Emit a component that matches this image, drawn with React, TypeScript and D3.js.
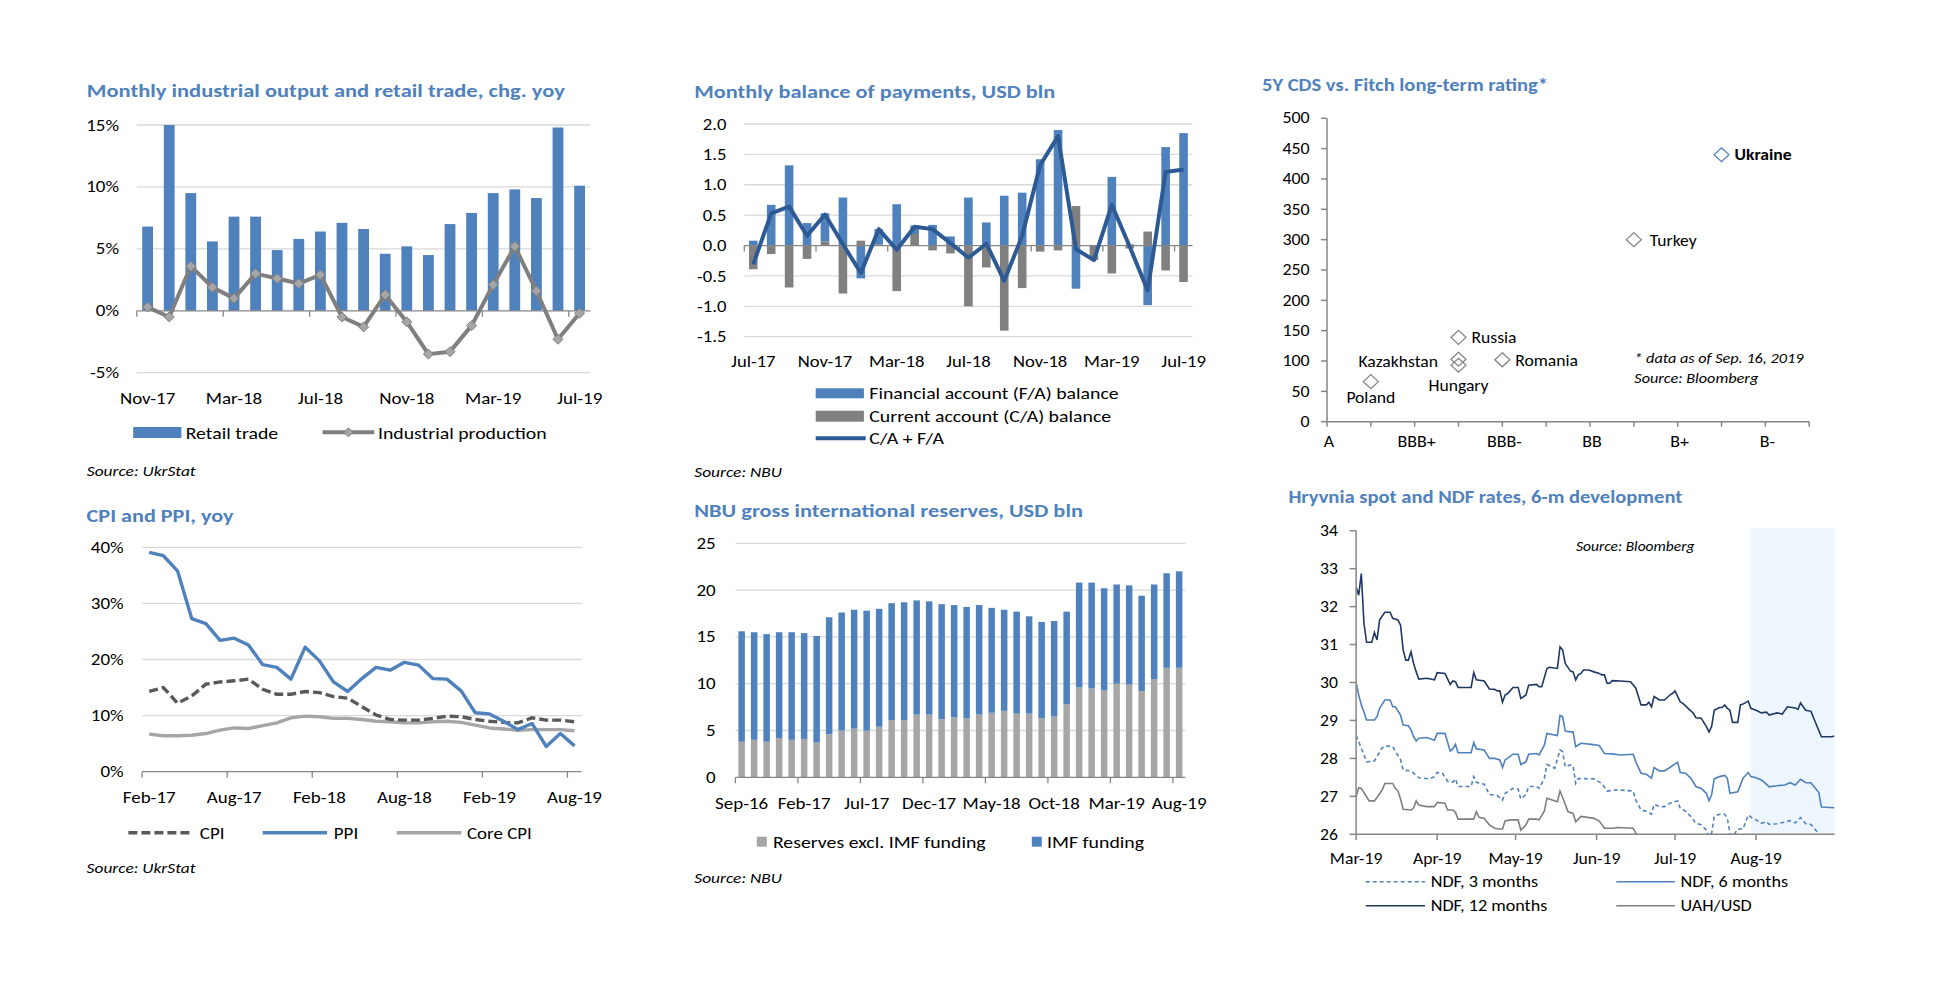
import React from "react";
import * as d3 from "d3";

const FONT = "Calibri, Carlito, Lato, 'Open Sans', Arial, sans-serif";
const TITLE_COLOR = "#4f81bd";
const BLUE = "#4f81bd";
const GRID = "#d9d9d9";
const AXIS = "#868686";
const TICK_FS = 16.5;
const LEG_FS = 16.5;
const SRC_FS = 14.5;

function monthLabels(year: number, month: number, n: number): string[] {
  const fmt = d3.timeFormat("%b-%y");
  return d3.range(n).map((i) => fmt(new Date(year, month + i, 1)));
}

// ---------- Panel 1: industrial output & retail trade ----------
const p1Months = monthLabels(2017, 10, 21); // Nov-17 .. Jul-19
const retailTrade = [6.8, 15.0, 9.5, 5.6, 7.6, 7.6, 4.9, 5.8, 6.4, 7.1, 6.6, 4.6, 5.2, 4.5, 7.0, 7.9, 9.5, 9.8, 9.1, 14.8, 10.1];
const industrialProduction = [0.3, -0.5, 3.6, 1.9, 1.0, 3.0, 2.6, 2.2, 2.9, -0.5, -1.3, 1.3, -0.9, -3.5, -3.3, -1.2, 2.1, 5.2, 1.6, -2.3, -0.2];
const p1YTicks = [-5, 0, 5, 10, 15];

// ---------- Panel 2: balance of payments ----------
const p2Months = monthLabels(2017, 6, 25); // Jul-17 .. Jul-19
const financialAccount = [0.08, 0.67, 1.32, 0.37, 0.46, 0.79, -0.54, 0.25, 0.68, 0.14, 0.34, 0.15, 0.79, 0.38, 0.82, 0.87, 1.42, 1.9, -0.71, 0.01, 1.13, 0.02, -0.98, 1.62, 1.85];
const currentAccount = [-0.39, -0.14, -0.69, -0.22, 0.07, -0.79, 0.08, 0.02, -0.75, 0.19, -0.08, -0.13, -1.0, -0.36, -1.4, -0.7, -0.1, -0.08, 0.65, -0.24, -0.46, -0.05, 0.23, -0.41, -0.6];
const caPlusFa = [-0.31, 0.53, 0.64, 0.16, 0.51, 0.02, -0.45, 0.27, -0.07, 0.31, 0.27, 0.04, -0.2, 0.03, -0.58, 0.16, 1.32, 1.8, -0.06, -0.24, 0.67, -0.02, -0.74, 1.21, 1.25];
const p2YTicks = [-1.5, -1.0, -0.5, 0, 0.5, 1.0, 1.5, 2.0];

// ---------- Panel 3: CDS vs rating ----------
const ratingLabels = ["A", "A-", "BBB+", "BBB", "BBB-", "BB+", "BB", "BB-", "B+", "B", "B-", ""];
const cdsCountries = ["Poland", "Kazakhstan", "Hungary", "Russia", "Romania", "Turkey", "Ukraine"];
const cdsRating = [1, 3, 3, 3, 4, 7, 9];
const cdsValue = [66, 103, 93, 139, 102, 300, 440];
const p3YTicks = [0, 50, 100, 150, 200, 250, 300, 350, 400, 450, 500];

// ---------- Panel 4: CPI & PPI ----------
const p4Months = monthLabels(2017, 1, 31); // Feb-17 .. Aug-19
const ppi = [39.1, 38.5, 35.8, 27.3, 26.4, 23.4, 23.8, 22.6, 19.1, 18.6, 16.5, 22.2, 19.8, 16.0, 14.3, 16.6, 18.6, 18.1, 19.5, 19.0, 16.6, 16.5, 14.4, 10.5, 10.3, 9.0, 7.5, 8.6, 4.5, 6.8, 4.6];
const cpi = [14.3, 15.0, 12.2, 13.5, 15.6, 16.0, 16.2, 16.5, 14.7, 13.8, 13.8, 14.3, 14.1, 13.4, 13.1, 11.6, 10.1, 9.3, 9.2, 9.2, 9.5, 9.9, 9.8, 9.3, 9.0, 8.8, 8.7, 9.6, 9.2, 9.2, 8.9];
const coreCpi = [6.7, 6.4, 6.4, 6.5, 6.8, 7.4, 7.8, 7.7, 8.2, 8.7, 9.6, 9.9, 9.8, 9.5, 9.5, 9.3, 9.0, 8.9, 8.7, 8.7, 8.9, 9.0, 8.8, 8.3, 7.8, 7.6, 7.4, 7.5, 7.5, 7.5, 7.3];
const p4YTicks = [0, 10, 20, 30, 40];

// ---------- Panel 5: NBU reserves ----------
const p5Months = monthLabels(2016, 8, 36); // Sep-16 .. Aug-19
const reservesExImf = [3.8, 4.0, 3.8, 4.2, 4.0, 4.1, 3.7, 4.6, 5.0, 5.2, 5.0, 5.4, 6.1, 6.1, 6.7, 6.7, 6.2, 6.4, 6.3, 6.7, 6.9, 7.1, 6.8, 6.8, 6.3, 6.5, 7.8, 9.6, 9.5, 9.3, 10.0, 9.9, 9.2, 10.5, 11.7, 11.7];
const imfFunding = [11.8, 11.5, 11.5, 11.3, 11.5, 11.3, 11.4, 12.5, 12.6, 12.7, 12.8, 12.6, 12.5, 12.6, 12.2, 12.1, 12.3, 12.0, 11.9, 11.7, 11.2, 10.8, 10.9, 10.4, 10.3, 10.2, 9.9, 11.2, 11.3, 10.9, 10.6, 10.6, 10.2, 10.1, 10.1, 10.3];
const p5YTicks = [0, 5, 10, 15, 20, 25];

// ---------- Panel 6: Hryvnia spot & NDF (day offset from 1 Mar 2019, value) ----------
const ndfStart = new Date(2019, 2, 1);
const ndfEnd = new Date(2019, 7, 31);
const shadeStart = new Date(2019, 6, 30);
const ndf12: [number, number][] = [[0,32.52],[1,32.3],[2,32.87],[3,31.56],[4,31.06],[6,31.06],[7,31.32],[8,31.12],[9,31.65],[11,31.85],[13,31.85],[14,31.69],[16,31.65],[17,31.51],[18,30.86],[19,30.59],[20,30.59],[21,30.81],[22,30.5],[23,30.28],[24,30.09],[27,30.11],[30,30.07],[31,30.26],[34,30.24],[36,29.95],[37,30.04],[38,30.02],[39,29.87],[44,29.87],[45,30.26],[46,30.07],[49,30.04],[51,29.83],[53,29.82],[54,29.78],[55,29.78],[56,29.48],[57,29.67],[58,29.71],[60,29.87],[62,29.87],[63,29.58],[65,29.67],[66,29.93],[69,29.95],[70,29.89],[71,29.89],[73,30.37],[74,30.4],[77,30.37],[78,30.94],[79,30.86],[80,30.5],[82,30.3],[83,30.28],[84,30.07],[85,30.2],[86,30.24],[87,30.33],[89,30.33],[91,30.28],[93,30.24],[94,30.2],[95,30.2],[96,29.98],[97,29.98],[98,30.05],[101,30.04],[105,30.02],[107,29.85],[109,29.41],[111,29.41],[112,29.48],[113,29.36],[114,29.63],[116,29.54],[118,29.54],[120,29.67],[121,29.71],[122,29.78],[124,29.49],[125,29.45],[127,29.32],[129,29.19],[130,29.07],[132,29.06],[134,28.84],[135,28.7],[136,28.84],[137,29.27],[139,29.34],[140,29.34],[141,29.41],[142,29.32],[143,29.27],[144,28.95],[146,28.95],[147,29.41],[148,29.43],[150,29.51],[151,29.32],[153,29.27],[155,29.2],[157,29.22],[158,29.14],[161,29.2],[163,29.17],[165,29.36],[168,29.33],[169,29.29],[170,29.46],[172,29.27],[174,29.24],[176,28.9],[178,28.57],[182,28.57],[183,28.59]];
const ndf6: [number, number][] = [[0,30.0],[1,29.67],[2,29.41],[3,29.23],[4,29.01],[7,29.01],[8,29.1],[9,29.32],[11,29.54],[13,29.54],[14,29.36],[15,29.36],[17,29.14],[18,28.88],[20,28.86],[21,28.75],[22,28.57],[23,28.46],[24,28.53],[27,28.55],[30,28.48],[31,28.66],[34,28.66],[36,28.19],[37,28.25],[38,28.37],[39,28.15],[44,28.15],[45,28.42],[46,28.25],[49,28.22],[51,28.0],[53,28.0],[55,27.96],[56,27.76],[57,27.96],[60,28.11],[62,28.11],[63,27.84],[65,27.91],[66,28.11],[69,28.13],[70,28.09],[72,28.35],[73,28.66],[77,28.6],[78,29.13],[79,29.1],[80,28.72],[82,28.7],[83,28.7],[84,28.31],[86,28.4],[90,28.37],[93,28.34],[95,28.13],[98,28.12],[101,28.09],[106,28.11],[107,27.91],[109,27.61],[111,27.58],[113,27.48],[114,27.76],[116,27.67],[118,27.67],[120,27.76],[123,27.9],[124,27.63],[126,27.61],[128,27.48],[130,27.26],[132,27.21],[134,27.08],[135,26.88],[136,27.04],[137,27.46],[139,27.52],[141,27.55],[142,27.48],[143,27.08],[146,27.12],[148,27.48],[150,27.63],[151,27.52],[153,27.49],[155,27.43],[156,27.38],[158,27.25],[161,27.28],[164,27.3],[166,27.36],[168,27.3],[170,27.45],[172,27.36],[174,27.36],[177,27.1],[178,26.72],[183,26.7]];
const ndf3: [number, number][] = [[0,28.6],[1,28.44],[3,28.09],[4,27.91],[7,27.93],[8,28.05],[10,28.28],[11,28.33],[14,28.31],[15,28.19],[17,27.96],[18,27.69],[21,27.67],[22,27.61],[24,27.49],[28,27.46],[30,27.52],[31,27.63],[33,27.61],[35,27.4],[37,27.37],[38,27.46],[39,27.26],[44,27.26],[45,27.52],[46,27.37],[49,27.32],[51,27.05],[54,27.02],[56,26.9],[57,27.08],[60,27.21],[62,27.19],[63,26.93],[65,27.05],[66,27.26],[69,27.26],[70,27.21],[72,27.47],[73,27.84],[76,27.74],[78,28.22],[79,28.18],[80,27.78],[82,27.83],[83,27.81],[84,27.34],[85,27.47],[91,27.46],[94,27.34],[96,27.14],[100,27.17],[106,27.14],[107,26.9],[109,26.64],[111,26.61],[113,26.53],[114,26.79],[116,26.73],[118,26.73],[120,26.82],[123,26.88],[124,26.68],[126,26.61],[128,26.47],[130,26.29],[132,26.25],[134,26.11],[135,25.94],[136,26.03],[137,26.47],[139,26.53],[141,26.53],[142,26.42],[143,26.03],[144,25.94],[146,26.14],[148,26.14],[150,26.51],[152,26.4],[153,26.38],[155,26.29],[157,26.33],[158,26.26],[161,26.28],[164,26.32],[166,26.36],[168,26.3],[170,26.44],[172,26.28],[174,26.26],[177,26.02],[178,25.7],[183,25.7]];
const uahUsd: [number, number][] = [[0,26.99],[1,27.23],[2,27.21],[4,26.99],[5,26.88],[7,26.88],[8,26.97],[10,27.17],[11,27.34],[14,27.34],[15,27.21],[16,27.14],[17,26.93],[18,26.66],[21,26.64],[22,26.7],[23,26.88],[24,26.77],[27,26.73],[30,26.73],[31,26.84],[34,26.82],[35,26.64],[37,26.64],[38,26.58],[39,26.4],[45,26.4],[46,26.6],[47,26.45],[49,26.42],[51,26.25],[53,26.16],[55,26.14],[56,26.14],[57,26.35],[59,26.38],[62,26.38],[63,26.11],[65,26.25],[66,26.4],[69,26.4],[70,26.38],[72,26.61],[73,26.95],[77,26.86],[78,27.14],[80,26.79],[81,26.6],[83,26.55],[84,26.33],[86,26.47],[91,26.42],[93,26.35],[95,26.16],[98,26.16],[100,26.18],[106,26.16],[108,25.9],[115,25.75],[130,25.5],[150,25.3],[183,25.1]];
const p6YTicks = [26, 27, 28, 29, 30, 31, 32, 33, 34];

const diamond = (rx: number, ry: number = rx) => `M0,${-ry}L${rx},0L0,${ry}L${-rx},0Z`;

// text with horizontal stretch (reference glyphs are wider than tall)
const T = ({ x, y, k = 1, anchor = "start", baseline, size = TICK_FS, children, ...rest }: any) => (
  <text
    transform={`translate(${x},${y}) scale(${k},1)`}
    textAnchor={anchor}
    dominantBaseline={baseline}
    fontSize={size}
    {...rest}
  >
    {children}
  </text>
);

const Title = ({ x, y, w, children }: any) => (
  <text x={x} y={y} fill={TITLE_COLOR} fontWeight="bold" fontSize={18.5} textLength={w} lengthAdjust="spacingAndGlyphs">
    {children}
  </text>
);

function Panel1() {
  const x = d3.scaleBand<string>().domain(p1Months).range([136.8, 590.4]);
  const y = d3.scaleLinear().domain([-5, 15]).range([372.7, 125]);
  const bw = x.bandwidth();
  const cx = (i: number) => (x(p1Months[i]) as number) + bw / 2;
  const line = d3.line<number>().x((_, i) => cx(i)).y((d) => y(d));
  const kt = 1.15, kl = 1.2;
  return (
    <g>
      <Title x={86.8} y={96.7} w={478}>Monthly industrial output and retail trade, chg. yoy</Title>
      {p1YTicks.map((t) => (
        <g key={t}>
          {t !== 0 && <line x1={136.8} x2={590.4} y1={y(t)} y2={y(t)} stroke={GRID} strokeWidth={1.3} />}
          <T x={119} y={y(t)} k={kt} anchor="end" baseline="central">{t}%</T>
        </g>
      ))}
      {retailTrade.map((v, i) => (
        <rect key={i} x={cx(i) - bw * 0.25} width={bw * 0.5} y={y(Math.max(0, v))} height={Math.abs(y(v) - y(0))} fill={BLUE} />
      ))}
      <line x1={136.8} x2={590.4} y1={y(0)} y2={y(0)} stroke={AXIS} strokeWidth={1.3} />
      {d3.range(0, 21, 4).map((i) => (
        <line key={i} x1={x(p1Months[i])} x2={x(p1Months[i])} y1={y(0)} y2={y(0) + 6} stroke={AXIS} strokeWidth={1.3} />
      ))}
      <path d={line(industrialProduction) as string} fill="none" stroke="#7f7f7f" strokeWidth={4} strokeLinejoin="round" />
      {industrialProduction.map((v, i) => (
        <path key={i} d={diamond(5)} transform={`translate(${cx(i)},${y(v)})`} fill="#a6a6a6" stroke="#7f7f7f" strokeWidth={1} />
      ))}
      {d3.range(0, 21, 4).map((i) => (
        <T key={i} x={cx(i)} y={404} k={kt} anchor="middle">{p1Months[i]}</T>
      ))}
      <rect x={133.2} y={427} width={48.2} height={11} fill={BLUE} />
      <T x={185.7} y={439} k={kl} size={LEG_FS}>Retail trade</T>
      <line x1={322.5} x2={374.3} y1={432.3} y2={432.3} stroke="#7f7f7f" strokeWidth={4} />
      <path d={diamond(4.5)} transform="translate(348.4,432.3)" fill="#a6a6a6" stroke="#7f7f7f" strokeWidth={1} />
      <T x={377.9} y={439} k={kl} size={LEG_FS}>Industrial production</T>
      <T x={86.8} y={476} k={1.2} size={SRC_FS} fontStyle="italic">Source: UkrStat</T>
    </g>
  );
}

function Panel2() {
  const x = d3.scaleBand<string>().domain(p2Months).range([744.3, 1192.5]);
  const y = d3.scaleLinear().domain([-1.5, 2]).range([336.7, 124]);
  const bw = x.bandwidth();
  const cx = (i: number) => (x(p2Months[i]) as number) + bw / 2;
  const rows = p2Months.map((m, i) => ({ ca: currentAccount[i], fa: financialAccount[i] }));
  const stacked = d3.stack<any>().keys(["ca", "fa"]).offset(d3.stackOffsetDiverging)(rows);
  const colors: Record<string, string> = { ca: "#808080", fa: BLUE };
  const line = d3.line<number>().x((_, i) => cx(i)).y((d) => y(d));
  const kt = 1.13, kl = 1.2;
  return (
    <g>
      <Title x={694.3} y={98.3} w={361}>Monthly balance of payments, USD bln</Title>
      {p2YTicks.map((t) => (
        <g key={t}>
          {t !== 0 && <line x1={744.3} x2={1192.5} y1={y(t)} y2={y(t)} stroke={GRID} strokeWidth={1.3} />}
          <T x={726.4} y={y(t)} k={kt} anchor="end" baseline="central">{t.toFixed(1)}</T>
        </g>
      ))}
      {stacked.map((s) => (
        <g key={s.key} fill={colors[s.key]}>
          {s.map((d, i) => (
            <rect key={i} x={cx(i) - bw * 0.24} width={bw * 0.48} y={y(Math.max(d[0], d[1]))} height={Math.abs(y(d[0]) - y(d[1]))} />
          ))}
        </g>
      ))}
      <line x1={744.3} x2={1192.5} y1={y(0)} y2={y(0)} stroke={AXIS} strokeWidth={1.3} />
      {d3.range(0, 25, 4).map((i) => (
        <line key={i} x1={x(p2Months[i])} x2={x(p2Months[i])} y1={y(0)} y2={y(0) + 6} stroke={AXIS} strokeWidth={1.3} />
      ))}
      <path d={line(caPlusFa) as string} fill="none" stroke="#2e5a93" strokeWidth={4} strokeLinejoin="round" />
      {d3.range(0, 25, 4).map((i) => (
        <T key={i} x={cx(i)} y={366.7} k={kt} anchor="middle">{p2Months[i]}</T>
      ))}
      <rect x={815.7} y={388.3} width={48.2} height={10} fill={BLUE} />
      <T x={869.3} y={398.8} k={kl} size={LEG_FS}>Financial account (F/A) balance</T>
      <rect x={815.7} y={410.7} width={48.2} height={11} fill="#808080" />
      <T x={869.3} y={421.9} k={kl} size={LEG_FS}>Current account (C/A) balance</T>
      <line x1={815.7} x2={865.7} y1={438.3} y2={438.3} stroke="#2e5a93" strokeWidth={4} />
      <T x={869.3} y={443.8} k={kl} size={LEG_FS}>C/A + F/A</T>
      <T x={694.3} y={476.7} k={1.2} size={SRC_FS} fontStyle="italic">Source: NBU</T>
    </g>
  );
}

function Panel3() {
  const x = d3.scaleLinear().domain([0, 11]).range([1327, 1809.2]);
  const y = d3.scaleLinear().domain([0, 500]).range([421.7, 118.3]);
  const labelPos: Record<string, { dx: number; dy: number; anchor: string }> = {
    Poland: { dx: 0, dy: 403.3, anchor: "middle" },
    Kazakhstan: { dx: -1438, dy: 366.7, anchor: "end" },
    Hungary: { dx: 0, dy: 391, anchor: "middle" },
    Russia: { dx: 13, dy: 343.3, anchor: "start" },
    Romania: { dx: 13, dy: 366, anchor: "start" },
    Turkey: { dx: 16, dy: 246, anchor: "start" },
    Ukraine: { dx: 13, dy: 160, anchor: "start" },
  };
  const kt = 1.12;
  return (
    <g>
      <Title x={1262} y={90.7} w={286}>5Y CDS vs. Fitch long-term rating*</Title>
      <line x1={x(0)} x2={x(0)} y1={y(0)} y2={y(500)} stroke={AXIS} strokeWidth={1.5} />
      <line x1={x(0)} x2={x(11)} y1={y(0)} y2={y(0)} stroke={AXIS} strokeWidth={1.5} />
      {p3YTicks.map((t) => (
        <g key={t}>
          <line x1={x(0) - 6} x2={x(0)} y1={y(t)} y2={y(t)} stroke={AXIS} strokeWidth={1.5} />
          <T x={1309.7} y={y(t)} k={kt} anchor="end" baseline="central" size={16}>{t}</T>
        </g>
      ))}
      {ratingLabels.map((r, i) => (
        <g key={i}>
          <line x1={x(i)} x2={x(i)} y1={y(0)} y2={y(0) + 5} stroke={AXIS} strokeWidth={1.5} />
          {i % 2 === 0 && r && (
            <T x={x(i) + 2} y={447} k={kt} anchor="middle" size={16}>{r}</T>
          )}
        </g>
      ))}
      {cdsCountries.map((c, i) => {
        const px = x(cdsRating[i]);
        const py = y(cdsValue[i]);
        const isUa = c === "Ukraine";
        const lp = labelPos[c];
        const lx = lp.dx < 0 ? -lp.dx : px + lp.dx;
        return (
          <g key={c}>
            <path d={diamond(7.5, 7)} transform={`translate(${px},${py})`} fill="none" stroke={isUa ? BLUE : "#7f7f7f"} strokeWidth={1.2} />
            <T x={lx} y={lp.dy} k={1.1} anchor={lp.anchor} size={16} fontWeight={isUa ? "bold" : "normal"}>{c}</T>
          </g>
        );
      })}
      <T x={1634.3} y={362.7} k={1.12} size={SRC_FS} fontStyle="italic">* data  as of Sep. 16, 2019</T>
      <T x={1634.3} y={382.7} k={1.12} size={SRC_FS} fontStyle="italic">Source: Bloomberg</T>
    </g>
  );
}

function Panel4() {
  const x = d3.scaleBand<string>().domain(p4Months).range([142.1, 581.6]);
  const y = d3.scaleLinear().domain([0, 40]).range([771.7, 547.3]);
  const bw = x.bandwidth();
  const cx = (i: number) => (x(p4Months[i]) as number) + bw / 2;
  const line = d3.line<number>().x((_, i) => cx(i)).y((d) => y(d));
  const kt = 1.15, kl = 1.15;
  return (
    <g>
      <Title x={86.6} y={521.7} w={147}>CPI and PPI, yoy</Title>
      {p4YTicks.map((t) => (
        <g key={t}>
          {t !== 0 && <line x1={142.1} x2={581.6} y1={y(t)} y2={y(t)} stroke={GRID} strokeWidth={1.3} />}
          <T x={123.6} y={y(t)} k={kt} anchor="end" baseline="central">{t}%</T>
        </g>
      ))}
      <line x1={142.1} x2={581.6} y1={y(0)} y2={y(0)} stroke={AXIS} strokeWidth={1.3} />
      {d3.range(0, 31, 6).map((i) => (
        <line key={i} x1={x(p4Months[i])} x2={x(p4Months[i])} y1={y(0)} y2={y(0) + 6} stroke={AXIS} strokeWidth={1.3} />
      ))}
      <path d={line(coreCpi) as string} fill="none" stroke="#a6a6a6" strokeWidth={3.4} strokeLinejoin="round" />
      <path d={line(cpi) as string} fill="none" stroke="#595959" strokeWidth={3.4} strokeDasharray="9,4" />
      <path d={line(ppi) as string} fill="none" stroke={BLUE} strokeWidth={3.4} strokeLinejoin="round" />
      {d3.range(0, 31, 6).map((i) => (
        <T key={i} x={cx(i)} y={802.7} k={kt} anchor="middle">{p4Months[i]}</T>
      ))}
      <line x1={128.4} x2={191.3} y1={832.7} y2={832.7} stroke="#595959" strokeWidth={3.4} strokeDasharray="9,4" />
      <T x={199.8} y={838.5} k={kl} size={LEG_FS}>CPI</T>
      <line x1={262.7} x2={327.1} y1={832.7} y2={832.7} stroke={BLUE} strokeWidth={3.4} />
      <T x={333.8} y={838.5} k={kl} size={LEG_FS}>PPI</T>
      <line x1={396.7} x2={461.4} y1={832.7} y2={832.7} stroke="#a6a6a6" strokeWidth={3.4} />
      <T x={467} y={838.5} k={kl} size={LEG_FS}>Core CPI</T>
      <T x={86.6} y={873.3} k={1.2} size={SRC_FS} fontStyle="italic">Source: UkrStat</T>
    </g>
  );
}

function Panel5() {
  const x = d3.scaleBand<string>().domain(p5Months).range([735.4, 1185.4]);
  const y = d3.scaleLinear().domain([0, 25]).range([777.3, 543.3]);
  const bw = x.bandwidth();
  const cx = (i: number) => (x(p5Months[i]) as number) + bw / 2;
  const rows = p5Months.map((m, i) => ({ ex: reservesExImf[i], imf: imfFunding[i] }));
  const stacked = d3.stack<any>().keys(["ex", "imf"])(rows);
  const colors: Record<string, string> = { ex: "#a6a6a6", imf: BLUE };
  const kt = 1.15, kl = 1.2;
  return (
    <g>
      <Title x={694.3} y={516.7} w={388.6}>NBU gross international reserves, USD bln</Title>
      {p5YTicks.map((t) => (
        <g key={t}>
          {t !== 0 && <line x1={735.4} x2={1185.4} y1={y(t)} y2={y(t)} stroke={GRID} strokeWidth={1.3} />}
          <T x={715.7} y={y(t)} k={kt} anchor="end" baseline="central">{t}</T>
        </g>
      ))}
      {stacked.map((s) => (
        <g key={s.key} fill={colors[s.key]}>
          {s.map((d, i) => (
            <rect key={i} x={cx(i) - bw * 0.26} width={bw * 0.52} y={y(d[1])} height={y(d[0]) - y(d[1])} />
          ))}
        </g>
      ))}
      <line x1={735.4} x2={1185.4} y1={y(0)} y2={y(0)} stroke={AXIS} strokeWidth={1.3} />
      {d3.range(0, 36, 5).map((i) => (
        <line key={i} x1={x(p5Months[i])} x2={x(p5Months[i])} y1={y(0)} y2={y(0) + 6} stroke={AXIS} strokeWidth={1.3} />
      ))}
      {d3.range(0, 36, 5).map((i) => (
        <T key={i} x={cx(i)} y={809.3} k={kt} anchor="middle">{p5Months[i]}</T>
      ))}
      <rect x={756.8} y={836.7} width={10} height={10} fill="#a6a6a6" />
      <T x={772.9} y={847.5} k={kl} size={LEG_FS}>Reserves excl. IMF funding</T>
      <rect x={1031.8} y={836.7} width={10} height={10} fill={BLUE} />
      <T x={1047.1} y={847.5} k={kl} size={LEG_FS}>IMF funding</T>
      <T x={694.3} y={882.7} k={1.2} size={SRC_FS} fontStyle="italic">Source: NBU</T>
    </g>
  );
}

function Panel6() {
  const x = d3.scaleTime().domain([ndfStart, ndfEnd]).range([1356.1, 1834.5]);
  const y = d3.scaleLinear().domain([26, 34]).range([834.3, 530.7]);
  const toDate = (d: number) => d3.timeDay.offset(ndfStart, d);
  const line = d3.line<[number, number]>().x((d) => x(toDate(d[0]))).y((d) => y(d[1]));
  const months = d3.timeMonth.range(ndfStart, ndfEnd);
  const fmt = d3.timeFormat("%b-%y");
  const kt = 1.07, kl = 1.1;
  return (
    <g>
      <Title x={1288.4} y={502.7} w={394}>Hryvnia spot and NDF rates, 6-m development</Title>
      <defs>
        <clipPath id="clip6">
          <rect x={1356.1} y={528} width={1834.5 - 1356.1} height={834.3 - 528} />
        </clipPath>
      </defs>
      <rect x={x(shadeStart)} y={528} width={1834.5 - x(shadeStart)} height={834.3 - 528} fill="#eef6fd" />
      <g clipPath="url(#clip6)">
        <path d={line(uahUsd) as string} fill="none" stroke="#7f7f7f" strokeWidth={1.6} />
        <path d={line(ndf3) as string} fill="none" stroke={BLUE} strokeWidth={1.6} strokeDasharray="4,3" />
        <path d={line(ndf6) as string} fill="none" stroke={BLUE} strokeWidth={1.6} />
        <path d={line(ndf12) as string} fill="none" stroke="#1f3864" strokeWidth={1.6} />
      </g>
      <line x1={1356.1} x2={1356.1} y1={530.7} y2={834.3} stroke={AXIS} strokeWidth={1.5} />
      <line x1={1356.1} x2={1834.5} y1={834.3} y2={834.3} stroke={AXIS} strokeWidth={1.5} />
      {p6YTicks.map((t) => (
        <g key={t}>
          <line x1={1349.6} x2={1356.1} y1={y(t)} y2={y(t)} stroke={AXIS} strokeWidth={1.5} />
          <T x={1338} y={y(t)} k={kt} anchor="end" baseline="central">{t}</T>
        </g>
      ))}
      {months.map((m, i) => (
        <g key={i}>
          <line x1={x(m)} x2={x(m)} y1={834.3} y2={840} stroke={AXIS} strokeWidth={1.5} />
          <T x={x(m)} y={864} k={kt} anchor="middle">{fmt(m)}</T>
        </g>
      ))}
      <T x={1576} y={551} k={1.07} size={SRC_FS} fontStyle="italic">Source: Bloomberg</T>
      <line x1={1365.7} x2={1425} y1={881.7} y2={881.7} stroke={BLUE} strokeWidth={1.6} strokeDasharray="4,3" />
      <T x={1430.7} y={887.3} k={kl} size={LEG_FS}>NDF, 3 months</T>
      <line x1={1616.3} x2={1674.9} y1={881.7} y2={881.7} stroke={BLUE} strokeWidth={1.6} />
      <T x={1680.6} y={887.3} k={kl} size={LEG_FS}>NDF, 6 months</T>
      <line x1={1365.7} x2={1425} y1={905.7} y2={905.7} stroke="#1f3864" strokeWidth={1.6} />
      <T x={1430.7} y={911.3} k={kl} size={LEG_FS}>NDF, 12 months</T>
      <line x1={1616.3} x2={1674.9} y1={905.7} y2={905.7} stroke="#7f7f7f" strokeWidth={1.6} />
      <T x={1680.6} y={911.3} k={kl} size={LEG_FS}>UAH/USD</T>
    </g>
  );
}

export default function App() {
  return (
    <svg
      width={1957}
      height={996}
      viewBox="0 0 1957 996"
      style={{ position: "absolute", left: 0, top: 0, background: "#fff", fontFamily: FONT }}
      fontFamily={FONT}
    >
      <rect x={0} y={0} width={1957} height={996} fill="#fff" />
      <Panel1 />
      <Panel2 />
      <Panel3 />
      <Panel4 />
      <Panel5 />
      <Panel6 />
    </svg>
  );
}
